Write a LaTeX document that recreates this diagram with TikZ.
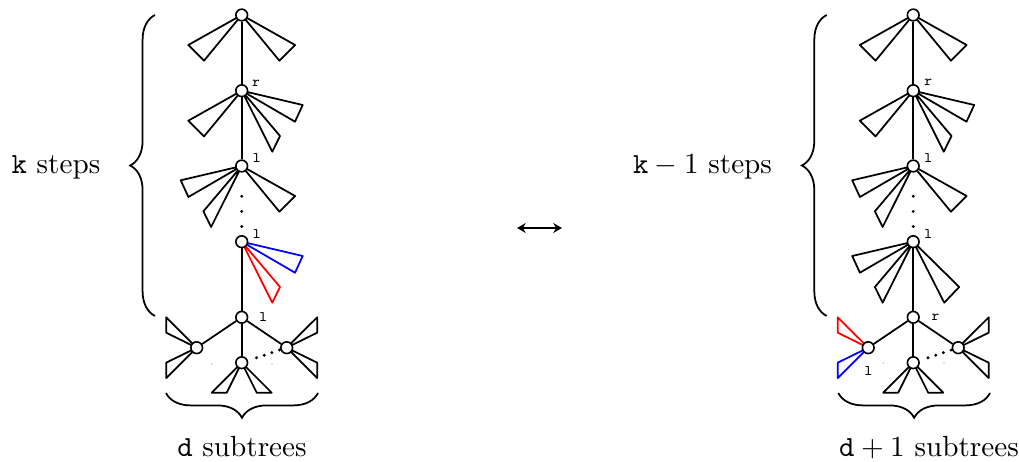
\documentclass[tikz,border=0pt]{standalone}
\usetikzlibrary{calc,decorations.pathreplacing,arrows.meta}
\pgfdeclarelayer{bg}
\pgfsetlayers{bg,main}
\tikzset{
  vtx/.style={circle,draw,fill=white,inner sep=0pt,minimum size=4.0pt,line width=0.55pt},
  edge/.style={line width=0.6pt},
  wdgline/.style={line width=0.6pt,line join=round},
  lab/.style={font=\tiny,inner sep=0pt},
  dotm/.style={circle,fill,inner sep=0pt,minimum size=1.1pt},
  faint/.style={circle,fill=black!25,inner sep=0pt,minimum size=0.6pt},
  brc/.style={decorate,decoration={brace,amplitude=8.5pt},line width=0.6pt},
  txt/.style={inner sep=0pt,anchor=base}
}
\newcommand\wdg[4][black]{\draw[wdgline,#1] (#2.center) -- ($(#2.center)+(#3)$) -- ($(#2.center)+(#4)$) -- cycle;}
\begin{document}
\begin{tikzpicture}[x=0.3425pt,y=-0.3425pt]
\useasboundingbox (0,0) rectangle (1019,462);
% ---------------- left tree ----------------
\node[vtx] (L1) at (241.7,15) {};
\node[vtx] (L2) at (241.7,90.7) {};
\node[vtx] (L3) at (241.7,166) {};
\node[vtx] (L4) at (241.7,241.7) {};
\node[vtx] (L5) at (241.7,317.3) {};
\node[vtx] (La) at (196.7,347.7) {};
\node[vtx] (Lb) at (241.7,362.7) {};
\node[vtx] (Lc) at (286.7,347.7) {};
\node[lab] (lr2) at (256,83) {$\mathtt{r}$};
\node[lab] (ll3) at (256.7,158.5) {$\mathtt{l}$};
\node[lab] (ll4) at (256.7,234.5) {$\mathtt{l}$};
\node[lab] (ll5) at (263.3,317.3) {$\mathtt{l}$};
\foreach \f/\n in {0.4/1,0.6/2,0.8/3}
  \node[dotm] (lv\n) at ($(L3)!\f!(L4)$) {};
\foreach \f/\n in {0.33/1,0.5/2,0.67/3,0.84/4}
  \node[dotm] (lh\n) at ($(Lb)!\f!(Lc)$) {};
\node[faint] (lf1) at (211.7,364) {};
\node[faint] (lf2) at (272,364) {};
\begin{pgfonlayer}{bg}
\draw[edge] (L1) -- (L2) -- (L3);
\draw[edge] (L4) -- (L5);
\draw[edge] (L5) -- (La);
\draw[edge] (L5) -- (Lb);
\draw[edge] (L5) -- (Lc);
\wdg{L1}{-53.4,30}{-37.7,45.7}
\wdg{L1}{53.4,30}{37.7,45.7}
\wdg{L2}{-53.4,30}{-37.7,45.7}
\wdg{L2}{61,14.3}{53.3,31}
\wdg{L2}{38.3,45.3}{30.6,61}
\wdg{L3}{-61,14.3}{-53.3,31}
\wdg{L3}{-38.3,45.3}{-30.6,61}
\wdg{L3}{53.4,30}{37.7,45.7}
\wdg[blue]{L4}{61,14.3}{53.3,31}
\wdg[red]{L4}{38.3,45.3}{30.6,61}
\wdg{La}{-30.5,-30.4}{-30.5,-15}
\wdg{La}{-30.5,15}{-30.5,30.4}
\wdg{Lc}{30.5,-30.4}{30.5,-15}
\wdg{Lc}{30.5,15}{30.5,30.4}
\wdg{Lb}{-30,30}{-15,30}
\wdg{Lb}{15,30}{30,30}
\end{pgfonlayer}
% ---------------- right tree ----------------
\node[vtx] (R1) at (913.2,15) {};
\node[vtx] (R2) at (913.2,90.7) {};
\node[vtx] (R3) at (913.2,166) {};
\node[vtx] (R4) at (913.2,241.7) {};
\node[vtx] (R5) at (913.2,317.3) {};
\node[vtx] (Ra) at (868.2,347.7) {};
\node[vtx] (Rb) at (913.2,362.7) {};
\node[vtx] (Rc) at (958.2,347.7) {};
\node[lab] (rr2) at (928.3,82) {$\mathtt{r}$};
\node[lab] (rl3) at (928.3,158) {$\mathtt{l}$};
\node[lab] (rl4) at (928.3,234) {$\mathtt{l}$};
\node[lab] (rr5) at (935.5,317) {$\mathtt{r}$};
\node[lab] (rla) at (868.5,370.7) {$\mathtt{l}$};
\foreach \f/\n in {0.4/1,0.6/2,0.8/3}
  \node[dotm] (rv\n) at ($(R3)!\f!(R4)$) {};
\foreach \f/\n in {0.33/1,0.5/2,0.67/3,0.84/4}
  \node[dotm] (rh\n) at ($(Rb)!\f!(Rc)$) {};
\node[faint] (rf1) at (883.5,363) {};
\node[faint] (rf2) at (944,363) {};
\begin{pgfonlayer}{bg}
\draw[edge] (R1) -- (R2) -- (R3);
\draw[edge] (R4) -- (R5);
\draw[edge] (R5) -- (Ra);
\draw[edge] (R5) -- (Rb);
\draw[edge] (R5) -- (Rc);
\wdg{R1}{-53.4,30}{-37.7,45.7}
\wdg{R1}{53.4,30}{37.7,45.7}
\wdg{R2}{-53.4,30}{-37.7,45.7}
\wdg{R2}{61,14.3}{53.3,31}
\wdg{R2}{38.3,45.3}{30.6,61}
\wdg{R3}{-61,14.3}{-53.3,31}
\wdg{R3}{-38.3,45.3}{-30.6,61}
\wdg{R3}{53.4,30}{37.7,45.7}
\wdg{R4}{-61,14.3}{-53.3,31}
\wdg{R4}{-38.3,45.3}{-30.6,61}
\wdg{R4}{46,45.3}{31,61}
\wdg[red]{Ra}{-30.5,-30.4}{-30.5,-15}
\wdg[blue]{Ra}{-30.5,15}{-30.5,30.4}
\wdg{Rc}{30.5,-30.4}{30.5,-15}
\wdg{Rc}{30.5,15}{30.5,30.4}
\wdg{Rb}{-30,30}{-15,30}
\wdg{Rb}{15,30}{30,30}
\end{pgfonlayer}
% ---------------- braces and texts ----------------
\coordinate (lbt) at (155,15);
\coordinate (lbb) at (155,316);
\draw[brc] (lbb) -- (lbt);
\coordinate (ldl) at (166,393);
\coordinate (ldr) at (318,393);
\draw[brc] (ldr) -- (ldl);
\coordinate (rbt) at (826.7,15);
\coordinate (rbb) at (826.7,316);
\draw[brc] (rbb) -- (rbt);
\coordinate (rdl) at (838.3,393);
\coordinate (rdr) at (990,393);
\draw[brc] (rdr) -- (rdl);
\node[txt] (tk) at (56,173.3) {$\mathtt{k}$ steps};
\node[txt] (tk1) at (702.5,173.3) {$\mathtt{k}-1$ steps};
\node[txt] (td) at (242,456) {$\mathtt{d}$ subtrees};
\node[txt] (td1) at (929,456) {$\mathtt{d}+1$ subtrees};
\coordinate (A1) at (517,228);
\coordinate (A2) at (562,228);
\draw[line width=0.6pt,{Stealth[length=3pt,width=3.4pt,inset=1pt]}-{Stealth[length=3pt,width=3.4pt,inset=1pt]}] (A1) -- (A2);
\end{tikzpicture}
\end{document}
